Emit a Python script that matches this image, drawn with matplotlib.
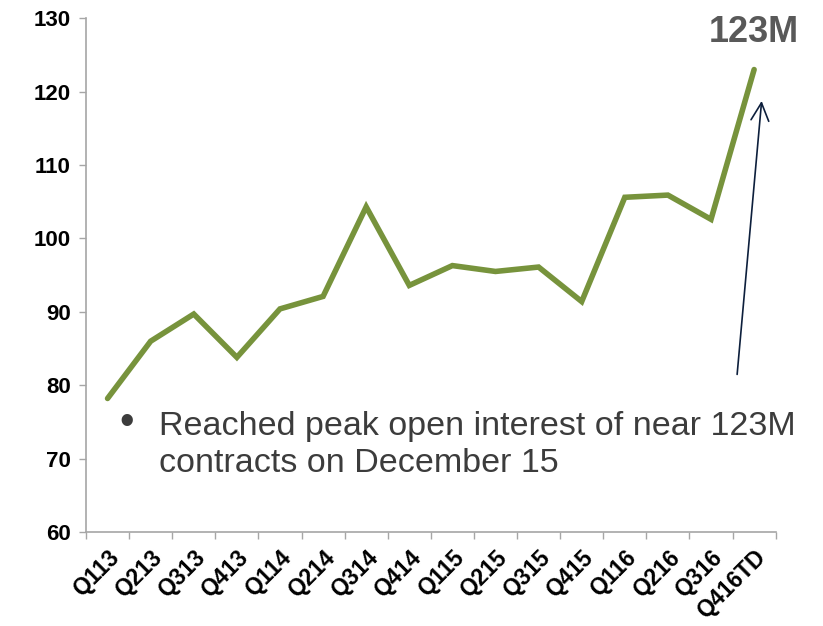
import numpy as np
import matplotlib.pyplot as plt

plt.rcParams['font.family'] = ['Liberation Sans', 'DejaVu Sans']

quarters = ['Q113', 'Q213', 'Q313', 'Q413', 'Q114', 'Q214', 'Q314', 'Q414',
            'Q115', 'Q215', 'Q315', 'Q415', 'Q116', 'Q216', 'Q316', 'Q416TD']
open_interest = [78.2, 86.0, 89.7, 83.8, 90.4, 92.1, 104.3, 93.6,
                 96.3, 95.5, 96.1, 91.4, 105.6, 105.9, 102.6, 123.0]

fig = plt.figure(figsize=(8.23, 6.26), dpi=100)
ax = fig.add_axes([0.1045, 0.150, 0.838, 0.821])

x = np.arange(len(quarters))
ax.plot(x, open_interest, color='#77933c', lw=4.0, solid_capstyle='round',
        solid_joinstyle='miter')

ax.set_xlim(-0.5, len(quarters) - 0.5)
ax.set_ylim(60, 130)
ax.set_yticks(np.arange(60, 131, 10))

# labels at category centers, tick marks on the boundaries
ax.set_xticks(x)
ax.set_xticklabels(quarters, rotation=45, ha='right', rotation_mode='anchor',
                   fontsize=16.5, fontweight='bold')
ax.set_xticks(np.arange(-0.5, len(quarters), 1), minor=True)
ax.tick_params(axis='x', which='major', length=0, pad=10)
ax.tick_params(axis='x', which='minor', length=5, color='#a6a6a6', width=1)
ax.tick_params(axis='y', length=5, color='#a6a6a6', width=1, pad=6)
for lab in ax.get_yticklabels():
    lab.set_fontsize(16)
    lab.set_fontweight('bold')

for s in ['top', 'right']:
    ax.spines[s].set_visible(False)
for s in ['left', 'bottom']:
    ax.spines[s].set_color('#a6a6a6')
    ax.spines[s].set_linewidth(1.2)

# peak label and arrow
ax.text(x[-1], open_interest[-1] + 2.6, f'{open_interest[-1]:.0f}M',
        ha='center', va='bottom', fontsize=26, fontweight='bold', color='#595959')
ax.annotate('', xy=(15.18, 119.1), xytext=(14.6, 81.1),
            arrowprops=dict(arrowstyle='->', color='#0d1f3c', lw=1.2,
                            mutation_scale=32))

ax.text(0.45, 74.8, '\u2022', fontsize=30, color='#3c3c3c', ha='center', va='center')
ax.text(1.2, 71.8, 'Reached peak open interest of near 123M\ncontracts on December 15',
        fontsize=24.5, color='#3c3c3c', ha='left', va='center', linespacing=1.25)

fig.savefig('out.png', dpi=100)
